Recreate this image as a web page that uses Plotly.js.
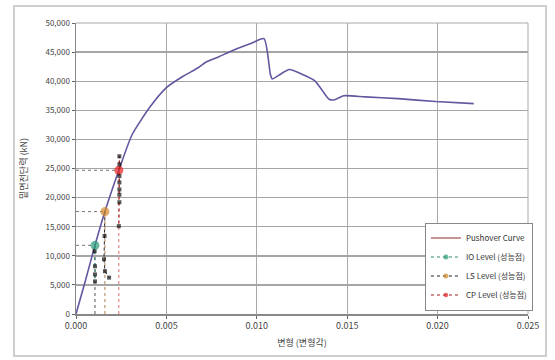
<!DOCTYPE html>
<html><head><meta charset="utf-8">
<script src="https://cdn.plot.ly/plotly-3.0.1.min.js"></script>
<style>
html,body{margin:0;padding:0;background:#fff;}
#wrap{position:relative;width:555px;height:360px;}
#chart{width:555px;height:360px;}
#frame{position:absolute;left:13px;top:5px;width:530px;height:348px;border:2px solid #cfcfcf;pointer-events:none;}
</style></head>
<body><div id="wrap"><div id="chart"></div><div id="frame"></div></div>
<script>
// Pushover curve (drift, base shear kN)
const curveX = [0, 0.0005, 0.00105, 0.0016, 0.00237, 0.0031, 0.0041, 0.0050, 0.0059, 0.0068, 0.0072, 0.0079, 0.0086, 0.0097, 0.0104, 0.01075, 0.01085, 0.0112, 0.0118, 0.0125, 0.0132, 0.0136, 0.0140, 0.0143, 0.0148, 0.0160, 0.0178, 0.0199, 0.0220];
const curveY = [0, 5500, 11800, 17600, 24700, 30800, 35600, 38900, 40800, 42400, 43300, 44200, 45200, 46500, 47300, 41200, 40400, 41000, 42000, 41200, 40100, 38500, 36900, 36800, 37500, 37300, 37000, 36500, 36150];

// Performance points (first = performance point, rest = step points)
const ioX = [0.00105, 0.00103, 0.00105, 0.00105, 0.00105];
const ioY = [11800, 10800, 8200, 6800, 5600];
const lsX = [0.0016, 0.00158, 0.00155, 0.0016, 0.00183];
const lsY = [17600, 13400, 9400, 7350, 6250];
const cpX = [0.00237, 0.00240, 0.00240, 0.00240, 0.00240, 0.00240, 0.00240, 0.00240, 0.00237];
const cpY = [24700, 27100, 25700, 23700, 22600, 21400, 20500, 19200, 15100];

const names = ['Pushover Curve', 'IO Level (성능점)', 'LS Level (성능점)', 'CP Level (성능점)'];
const xTicks = [0, 0.005, 0.010, 0.015, 0.020, 0.025];
const yTicks = [0, 5000, 10000, 15000, 20000, 25000, 30000, 35000, 40000, 45000, 50000];

const F = '"Noto Sans CJK KR", "Noto Sans", sans-serif';

function guides(x, y, vcol) {
  return [
    {x: [0, x], y: [y, y], mode: 'lines', line: {color: '#777', width: 1, dash: 'dot'}, showlegend: false, hoverinfo: 'skip'},
    {x: [x, x], y: [0, y], mode: 'lines', line: {color: vcol, width: 1, dash: 'dot'}, showlegend: false, hoverinfo: 'skip'}
  ];
}
function level(xs, ys, name, lcol, mcol) {
  const sizes = xs.map((_, i) => i === 0 ? 9 : 4);
  const cols = xs.map((_, i) => i === 0 ? mcol : '#111');
  const syms = xs.map((_, i) => i === 0 ? 'circle' : 'square');
  return {x: xs, y: ys, name: name, mode: 'lines+markers',
    line: {color: lcol, width: 1, dash: 'dot'},
    marker: {size: sizes, color: cols, symbol: syms, line: {width: 0}}};
}

const traces = [];
traces.push(...guides(ioX[0], ioY[0], '#555'));
traces.push(...guides(lsX[0], lsY[0], '#b08050'));
traces.push(...guides(cpX[0], cpY[0], '#e07070'));
traces.push({x: curveX, y: curveY, mode: 'lines', name: names[0], showlegend: false,
  line: {color: '#6656a0', width: 1.6, shape: 'spline', smoothing: 0.6}});
traces.push({x: [null], y: [null], mode: 'lines', name: names[0], line: {color: '#8b2a2a', width: 1}});
traces.push(level(ioX, ioY, names[1], '#2e8b6a', '#2a9d78'));
traces.push(level(lsX, lsY, names[2], '#222', '#d48a2c'));
traces.push(level(cpX, cpY, names[3], '#9b1c1c', '#e52020'));

const layout = {
  width: 555, height: 360,
  margin: {l: 76, r: 27, t: 23, b: 46},
  paper_bgcolor: '#fff', plot_bgcolor: '#fff',
  font: {family: F, size: 8, color: '#444'},
  showlegend: true,
  xaxis: {range: [0, 0.025], tickvals: xTicks, tickformat: '.3f',
    showgrid: true, gridcolor: '#aaa', gridwidth: 1,
    showline: true, linecolor: '#888', linewidth: 1.5,
    ticks: 'outside', ticklen: 3, tickcolor: '#666', zeroline: false,
    tickfont: {family: F, size: 9, color: '#444'},
    title: {text: '변형 (변형각)', font: {family: F, size: 9, color: '#444'}, standoff: 8}},
  yaxis: {range: [0, 50000], tickvals: yTicks, tickformat: ',',
    showgrid: true, gridcolor: '#a5a5a5', gridwidth: 1.4,
    showline: true, linecolor: '#888', linewidth: 1.5,
    ticks: 'outside', ticklen: 3, tickcolor: '#666', zeroline: false,
    tickfont: {family: F, size: 8, color: '#444'},
    title: {text: '밑면전단력 (kN)', font: {family: F, size: 9, color: '#444'}, standoff: 16}},
  legend: {x: 0.772, y: 0.012, xanchor: 'left', yanchor: 'bottom',
    bgcolor: '#fff', bordercolor: '#888', borderwidth: 1,
    font: {family: F, size: 8, color: '#333'}, itemwidth: 30, tracegroupgap: 0},
  shapes: [
    {type: 'line', xref: 'paper', yref: 'paper', x0: 0, x1: 1, y0: 1, y1: 1, line: {color: '#aaa', width: 1}},
    {type: 'line', xref: 'paper', yref: 'paper', x0: 1, x1: 1, y0: 0, y1: 1, line: {color: '#aaa', width: 1}}
  ]
};
Plotly.newPlot('chart', traces, layout, {displayModeBar: false, staticPlot: true});
</script></body></html>
